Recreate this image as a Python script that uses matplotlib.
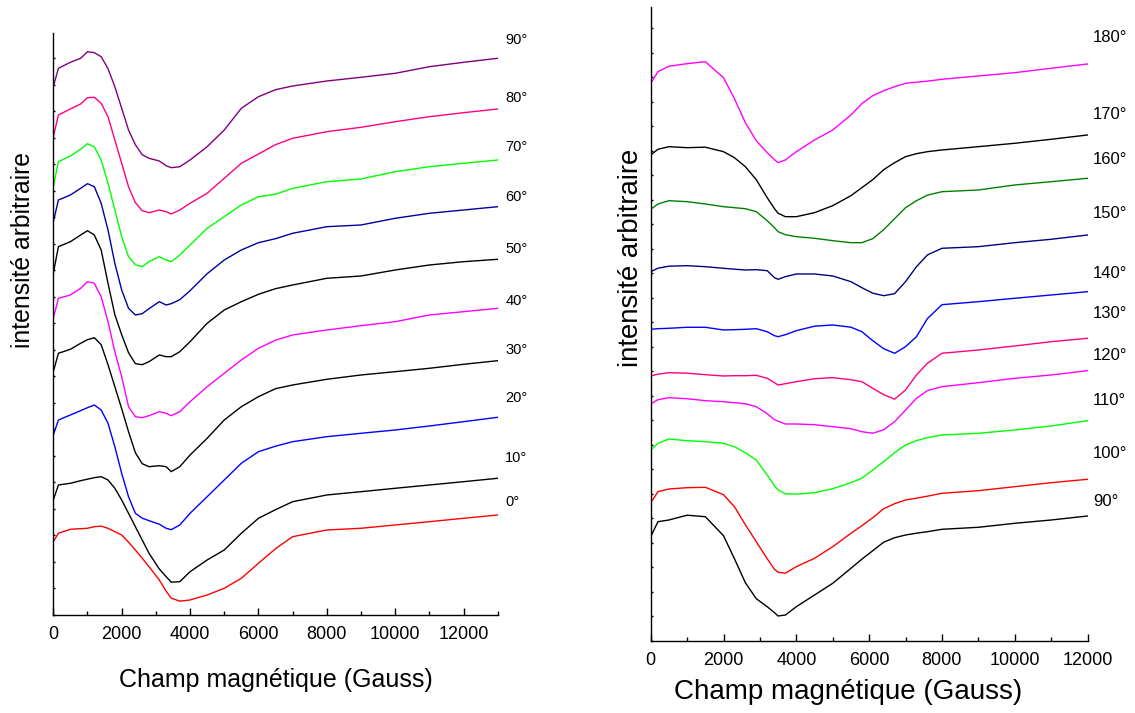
import matplotlib.pyplot as plt
from matplotlib.ticker import MultipleLocator, NullFormatter

plt.rcParams['font.family'] = ['Liberation Sans', 'DejaVu Sans']

# ---- left panel: 0° .. 90° (champ en Gauss, intensité arbitraire) ----
field_left = [0, 150, 500, 800, 1000, 1200, 1400, 1600, 1800, 2000, 2200, 2400,
              2600, 2800, 3100, 3300, 3450, 3700, 4000, 4500, 5000, 5500, 6000,
              6500, 7000, 8000, 9000, 10000, 11000, 12000, 13000]

left_90 = [528, 546.4, 552.4, 556.4, 563, 562, 558, 546, 528, 506.4, 484.7, 470,
           460, 456.4, 453.7, 449, 447, 448, 454.7, 468, 484.7, 506.4, 518,
           525, 528.7, 533.7, 537.4, 541.4, 548, 552.4, 556.4]
left_80 = [478, 499.7, 505.7, 510.7, 517, 517.4, 511.4, 498, 474.7, 451.4, 428, 412,
           404, 402, 404.7, 403, 400.7, 404.7, 411.4, 421.4, 436.4, 451.4, 460.7,
           470, 476.4, 483, 487.4, 493, 498, 502, 505.7]
left_70 = [428, 453, 458.7, 465.4, 471, 468, 454.7, 431.4, 404.7, 378, 358, 350,
           348, 353, 358, 354.7, 353, 359.7, 369.7, 386.4, 398, 409.7, 418,
           420.5, 426.4, 433, 435.7, 443, 448, 451.4, 454.7]
left_60 = [393, 414.7, 419.7, 426.4, 431, 428, 411.4, 384.7, 351.4, 324.7, 306.4, 299.7,
           301, 306, 313, 309.7, 311, 315, 324, 341, 354.7, 364.7, 372,
           376, 381.4, 388, 389.7, 396.4, 401.4, 404.7, 408]
left_50 = [341.4, 368, 373, 379.7, 384, 379.7, 364.7, 331.4, 300, 280, 262, 251,
           250, 253, 259.7, 258, 258, 263, 273, 291.4, 304.7, 313, 320.4,
           326, 329.7, 336.4, 338.7, 344.7, 349.7, 353, 355.4]
left_40 = [296.4, 316.4, 319.7, 326.4, 333, 331.4, 318, 293, 263, 238, 208, 198,
           197, 199, 203, 201.4, 199, 203, 213, 228, 241.4, 254.7, 266.4,
           274.5, 279.7, 284.7, 289, 293, 299.7, 303, 306.4]
left_30 = [243, 261.4, 265.4, 271.4, 275, 277, 270, 250, 228, 206, 183, 162,
           151, 148, 149, 148, 143, 148, 159.7, 176.4, 194.7, 208, 218,
           226, 229.7, 235.4, 239.7, 243, 246.4, 250.4, 254]
left_20 = [179.7, 194.7, 199.7, 204, 207, 209.7, 204.7, 191.4, 168, 141.4, 118, 101.4,
           96.5, 94, 90.5, 86.4, 85, 89.7, 101.4, 118, 134.7, 151.4, 163,
           168.5, 173, 178, 181.4, 184.7, 188.7, 193, 197.4]
left_10 = [114.7, 129.7, 131.4, 134, 135.5, 137, 138, 134.7, 126.4, 114.7, 101.4, 88,
           74.7, 61.4, 45.7, 38, 32.5, 33, 43, 54.7, 64.7, 81.4, 96.4,
           105, 113, 119.7, 123, 126.4, 129.7, 133, 136.4]
left_0 = [73, 81.4, 85.4, 86, 86.4, 88, 88.5, 86.4, 83, 79.7, 72.5, 64.7,
          56.5, 48, 34.7, 23.5, 16.5, 13.5, 14.7, 19.7, 26.4, 36.4, 51.4,
          66, 78, 84.7, 86.4, 89.7, 93, 96.4, 99.7]

left_labels = ["90°", "80°", "70°", "60°", "50°", "40°", "30°", "20°", "10°", "0°"]
left_curves = [left_90, left_80, left_70, left_60, left_50,
               left_40, left_30, left_20, left_10, left_0]
left_colors = ["#800080", "#FF0080", "#00FF00", "#0000A0", "#000000",
               "#FF00FF", "#000000", "#0000FF", "#000000", "#FF0000"]
left_label_y = [574.7, 516.4, 468, 417.4, 365.4, 313.7, 264.7, 216.4, 156.4, 113]

# ---- right panel: 90° .. 180° ----
field_right = [0, 200, 500, 1000, 1500, 2000, 2300, 2600, 2900, 3200, 3400, 3500,
               3700, 4000, 4500, 5000, 5500, 5800, 6100, 6400, 6700, 7000, 7300,
               7600, 8000, 9000, 10000, 11000, 12000]

right_180 = [557.4, 569, 574.5, 577, 579, 563, 542, 518, 500, 488, 481, 478,
             480.7, 489, 500.7, 510.7, 525.7, 537, 545, 550, 554, 557.4, 558.5,
             559.5, 561.4, 564.7, 568, 572.4, 576.7]
right_170 = [485.7, 491.4, 494, 493, 493.5, 489, 483, 474, 461, 443, 432, 427.4,
             424, 424, 428, 435, 445, 453, 461, 471, 478, 484, 487,
             489, 490.7, 494, 497.4, 501.4, 505.7]
right_160 = [431.4, 436.7, 440, 439, 436.7, 434, 433, 432, 429, 420, 413, 409,
             406, 404, 402.4, 400, 398, 398, 402, 411, 422, 433, 440,
             445.5, 449, 450.7, 455.7, 459, 462.4]
right_150 = [369, 372.5, 374.5, 375, 374, 372.4, 371.5, 370.7, 371, 370, 363, 361.4,
             364, 366.7, 366.7, 364.7, 359, 353, 347.5, 345, 347, 359, 374,
             385.7, 392.4, 394, 398, 401.4, 405.7]
right_140 = [311.4, 312, 312.4, 313.4, 313.4, 310.7, 311, 311.4, 312, 309, 305, 304,
             306, 310, 314.5, 315.7, 313.5, 309, 300, 292, 287.4, 294, 304,
             322, 336, 339, 342.4, 345.7, 349]
right_130 = [264.7, 266.5, 268, 267.5, 266, 264.7, 265, 265, 265.4, 262.4, 258, 255.7,
             257, 259, 262, 263, 261, 259, 252.4, 246, 241.5, 250.7, 265.7,
             277.4, 287.4, 290.7, 294.7, 299, 302.4]
right_120 = [236.7, 241, 243, 242, 240, 239, 238, 237, 234, 227, 221, 219.5,
             216.7, 216.7, 216, 214, 212, 209, 207.4, 211, 219, 230.7, 242.4,
             250, 254, 258, 262.4, 265.7, 270]
right_110 = [190.7, 197.4, 201.7, 200, 199, 197.4, 194, 188, 180.7, 165.7, 155, 150.7,
             147, 146.5, 148, 152, 158, 162.5, 170.7, 179, 188, 195.7, 200,
             203, 205.7, 207.4, 210.7, 214.7, 220]
right_100 = [138, 149, 151.7, 153, 153.4, 146, 134, 116, 99, 82, 71.4, 68.5,
             67.5, 74, 82.4, 94, 107.4, 115, 123, 132, 137, 140.7, 142.5,
             144.5, 147.4, 150, 154, 158, 161.4]
right_90 = [104, 119, 120.7, 125.5, 124, 105, 82, 58, 42, 34, 28, 24.7,
            25.7, 34, 45.7, 57.4, 72.4, 81.5, 90, 98.5, 103, 105.7, 107.5,
            109, 111.4, 113.4, 117.4, 120.7, 124.7]

right_labels = ["180°", "170°", "160°", "150°", "140°", "130°", "120°", "110°", "100°", "90°"]
right_curves = [right_180, right_170, right_160, right_150, right_140,
                right_130, right_120, right_110, right_100, right_90]
right_colors = ["#FF00FF", "#000000", "#008000", "#000080", "#0000FF",
                "#FF0080", "#FF00FF", "#00FF00", "#FF0000", "#000000"]
right_label_y = [603.4, 525.7, 481.4, 427.4, 366.7, 326.7, 284.7, 239.7, 187.4, 139]

fig = plt.figure(figsize=(11.35, 7.13), dpi=100)
ax1 = fig.add_axes([0.04696, 0.1379, 0.3916, 0.8154])
ax2 = fig.add_axes([0.5733, 0.1014, 0.3849, 0.8884])


def style_axes(ax, xmax, ymax, ystep):
    ax.set_xlim(0, xmax)
    ax.set_ylim(0, ymax)
    for s in ['top', 'right']:
        ax.spines[s].set_visible(False)
    for s in ['left', 'bottom']:
        ax.spines[s].set_linewidth(1.0)
    ax.xaxis.set_major_locator(MultipleLocator(2000))
    ax.xaxis.set_minor_locator(MultipleLocator(1000))
    ax.yaxis.set_major_locator(MultipleLocator(ystep))
    ax.yaxis.set_major_formatter(NullFormatter())
    ax.tick_params(axis='x', which='major', direction='in', length=5, width=1, labelsize=13, pad=8)
    ax.tick_params(axis='x', which='minor', direction='in', length=2.7, width=1)
    ax.tick_params(axis='y', which='major', direction='in', length=1.5, width=1)


# left
for vals, col, lab, ly in zip(left_curves, left_colors, left_labels, left_label_y):
    ax1.plot(field_left, vals, color=col, lw=1.0, solid_joinstyle='round')
    ax1.text(13220, ly, lab, fontsize=10.5, va='center', ha='left', clip_on=False)
style_axes(ax1, 13000, 581.4, 26.5)
ax1.set_xlabel("Champ magnétique (Gauss)", fontsize=18, va='center')
ax1.xaxis.set_label_coords(0.5, -0.1123)
ax1.set_ylabel("intensité arbitraire", fontsize=17.8, va='center')
ax1.yaxis.set_label_coords(-0.068, 0.627)

# right
for vals, col, lab, ly in zip(right_curves, right_colors, right_labels, right_label_y):
    ax2.plot(field_right, vals, color=col, lw=1.0, solid_joinstyle='round')
    ax2.text(12150, ly, lab, fontsize=12, va='center', ha='left', clip_on=False)
style_axes(ax2, 12000, 633.4, 24.5)
ax2.set_xlabel("Champ magnétique (Gauss)", fontsize=20, va='center')
ax2.xaxis.set_label_coords(0.452, -0.081)
ax2.set_ylabel("intensité arbitraire", fontsize=19.8, va='center')
ax2.yaxis.set_label_coords(-0.045, 0.605)

fig.savefig("out.png", dpi=100)
